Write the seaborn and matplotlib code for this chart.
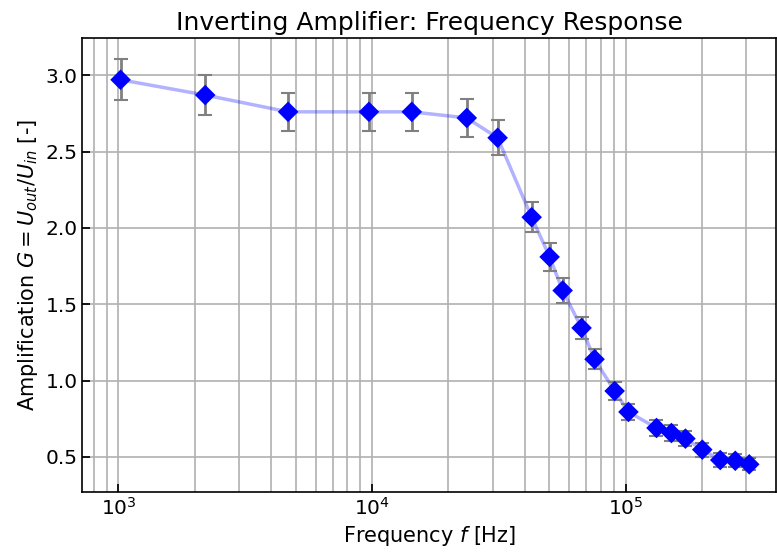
import matplotlib
matplotlib.use("Agg")
import matplotlib.pyplot as plt
import seaborn as sns
import numpy as np
import pandas as pd

freq = [1020, 2200, 4670, 9730, 14360, 23660, 31300, 42650, 50200, 56500, 67100,
        75500, 90600, 102700, 132500, 151700, 172300, 200800, 236400, 271000, 307600]
gain = [2.97, 2.87, 2.76, 2.76, 2.76, 2.72, 2.59, 2.07, 1.81, 1.59, 1.345,
        1.14, 0.932, 0.795, 0.69, 0.657, 0.62, 0.548, 0.48, 0.475, 0.452]
gain_err = [0.135, 0.13, 0.125, 0.125, 0.125, 0.123, 0.115, 0.098, 0.09, 0.08, 0.07,
            0.065, 0.06, 0.055, 0.05, 0.05, 0.048, 0.045, 0.043, 0.042, 0.04]

df = pd.DataFrame({"f": freq, "G": gain, "err": gain_err})

sns.set_theme(style="ticks")
plt.rcParams['font.family'] = ['DejaVu Sans']
plt.rcParams['text.color'] = 'black'
plt.rcParams['axes.labelcolor'] = 'black'
plt.rcParams['xtick.color'] = 'black'
plt.rcParams['ytick.color'] = 'black'

fig, ax = plt.subplots(figsize=(7.77, 5.54), dpi=100)

ax.errorbar(df["f"], df["G"], yerr=df["err"], fmt='none', ecolor='gray',
            elinewidth=2, capsize=5, capthick=1.5, zorder=3)
sns.lineplot(data=df, x="f", y="G", ax=ax, color='blue', alpha=0.3, lw=2.5,
             zorder=2, estimator=None, sort=False)
sns.scatterplot(data=df, x="f", y="G", ax=ax, marker='D', color='blue', s=110,
                edgecolor='none', zorder=4)

ax.set_xscale('log')
ax.set_xlim(721, 3.93e5)
ax.set_ylim(0.271, 3.242)
ax.set_yticks([0.5, 1.0, 1.5, 2.0, 2.5, 3.0])
ax.grid(True, which='major', color='#b0b0b0', lw=1.2)
ax.grid(True, which='minor', axis='x', color='#b0b0b0', lw=1.2)
ax.tick_params(direction='in', which='both', labelsize=14.5)
ax.tick_params(which='minor', length=0)
for s in ax.spines.values():
    s.set_color('black')
    s.set_linewidth(1.2)

ax.set_title("Inverting Amplifier: Frequency Response", fontsize=18)
ax.set_xlabel("Frequency $f$ [Hz]", fontsize=15)
ax.set_ylabel("Amplification $G = U_{out}/U_{in}$ [-]", fontsize=15)

fig.subplots_adjust(left=0.106, right=0.999, top=0.931, bottom=0.112)
fig.savefig("out.png", dpi=100)
